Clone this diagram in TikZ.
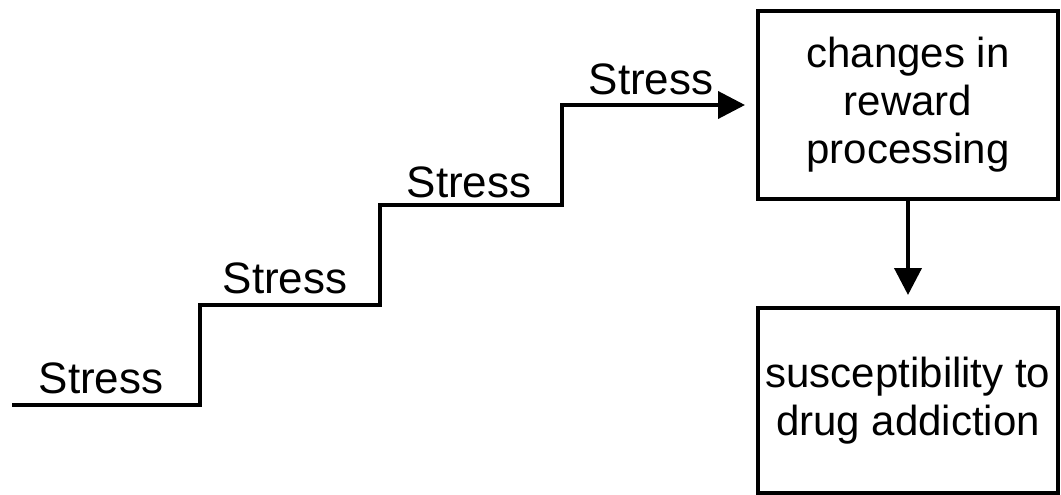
\documentclass[tikz,border=0pt]{standalone}
\usepackage{fontspec}
\setmainfont{Liberation Sans}
\usetikzlibrary{arrows.meta}
\begin{document}
\begin{tikzpicture}[x=1pt,y=-1pt,
  line/.style={line width=4pt},
  arr/.style={line width=4pt,-{Triangle[length=27pt,width=27pt]}},
  box/.style={draw,line width=4pt,minimum width=300pt,align=center,inner sep=0pt,
    font=\fontsize{42}{48}\selectfont},
  lbl/.style={anchor=base,inner sep=0pt,font=\fontsize{44}{48}\selectfont}]
\useasboundingbox (0,0) rectangle (1061,495);
\node[box,minimum height=187pt] (b1) at (908,105) {changes in\\reward\\processing};
\node[box,minimum height=185pt] (b2) at (908,400.5) {susceptibility to\\drug addiction};
\coordinate (s0) at (12,405);
\draw[arr,line join=miter,shorten >=11pt] (s0) -- (200,405) -- (200,305) -- (380,305) -- (380,205) -- (562,205) -- (562,105) -- (b1.west);
\draw[arr,shorten >=11pt] (b1.south) -- (b2.north);
\node[lbl] (l1) at (101,393) {Stress};
\node[lbl] (l2) at (285,293) {Stress};
\node[lbl] (l3) at (469,197) {Stress};
\node[lbl] (l4) at (651,95) {Stress};
\end{tikzpicture}
\end{document}
